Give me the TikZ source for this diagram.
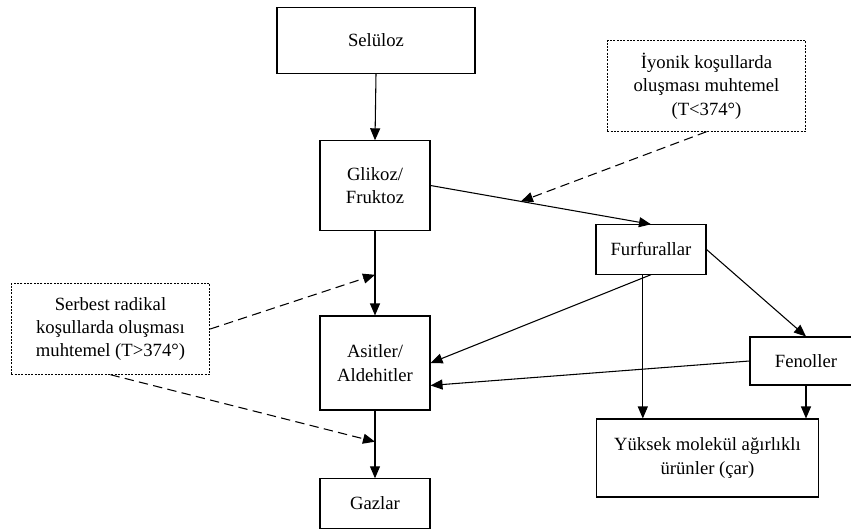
\documentclass[tikz,border=0pt]{standalone}
\usepackage{fontspec}
\setmainfont{Liberation Serif}
\usetikzlibrary{arrows.meta,calc}

\tikzset{every picture/.style={line width=0.8pt}}
\tikzset{
  box/.style={draw, rectangle, align=center, inner sep=0pt, font=\fontsize{14}{17.6}\selectfont},
  note/.style={box, dash pattern=on 1.5pt off 1pt, line width=0.6pt},
  arr/.style={-{Triangle[length=9pt,width=7.5pt]}},
  dasharr/.style={arr, dash pattern=on 7pt off 4pt}
}

\begin{document}
\begin{tikzpicture}[x=0.75pt,y=0.75pt,yscale=-1,xscale=1]
        \useasboundingbox (0,0) rectangle (851,529);
        % main chain
        \node [box, minimum width=148.5pt, minimum height=49.5pt] (selu) at (376,40.5) {Selüloz};
        \node [box, minimum width=82.5pt, minimum height=67pt] (glik) at (375,185.5) {Glikoz/\\Fruktoz};
        \node [box, minimum width=82.5pt, minimum height=70.5pt] (asit) at (375,363) {Asitler/\\Aldehitler};
        \node [box, minimum width=82.5pt, minimum height=37pt] (gaz) at (375,503.5) {Gazlar};
        % right branch
        \node [box, minimum width=82.5pt, minimum height=37pt] (furf) at (651,249.5) {Furfurallar};
        \node [box, minimum width=84pt, minimum height=36pt] (fen) at (806,361) {Fenoller};
        \node [box, minimum width=167pt, minimum height=58.5pt] (yuk) at (707.5,458) {Yüksek molekül ağırlıklı\\ürünler (çar)};
        % condition notes
        \node [note, minimum width=149pt, minimum height=68pt] (iyon) at (706.5,86) {İyonik koşullarda\\oluşması muhtemel\\(T<374°)};
        \node [note, minimum width=149pt, minimum height=68pt] (serb) at (110.5,329) {Serbest radikal\\koşullarda oluşması\\muhtemel (T>374°)};

        \coordinate (ion) at ($(glik.east)!0.41!(furf.north)$);
        \coordinate (rad1) at ($(glik.south)!0.52!(asit.north)$);
        \coordinate (rad2) at ($(asit.south)!0.46!(gaz.north)$);

        \draw [arr] (selu.south) -- (glik.north);
        \draw [arr] (glik.east) -- (furf.north);
        \draw [arr] (glik.south) -- (asit.north);
        \draw [arr] (asit.south) -- (gaz.north);
        \draw [arr] (furf.south) -- (asit.east);
        \draw [arr] (furf.252) -- (furf.252 |- yuk.north);
        \draw [arr] (furf.east) -- (fen.north);
        \draw [arr] (fen.west) -- (asit.-22);
        \draw [arr] (fen.south) -- (fen.south |- yuk.north);

        \draw [dasharr] (iyon.south) -- (ion);
        \draw [dasharr] (serb.east) -- (rad1);
        \draw [dasharr] (serb.south) -- (rad2);
\end{tikzpicture}
\end{document}
